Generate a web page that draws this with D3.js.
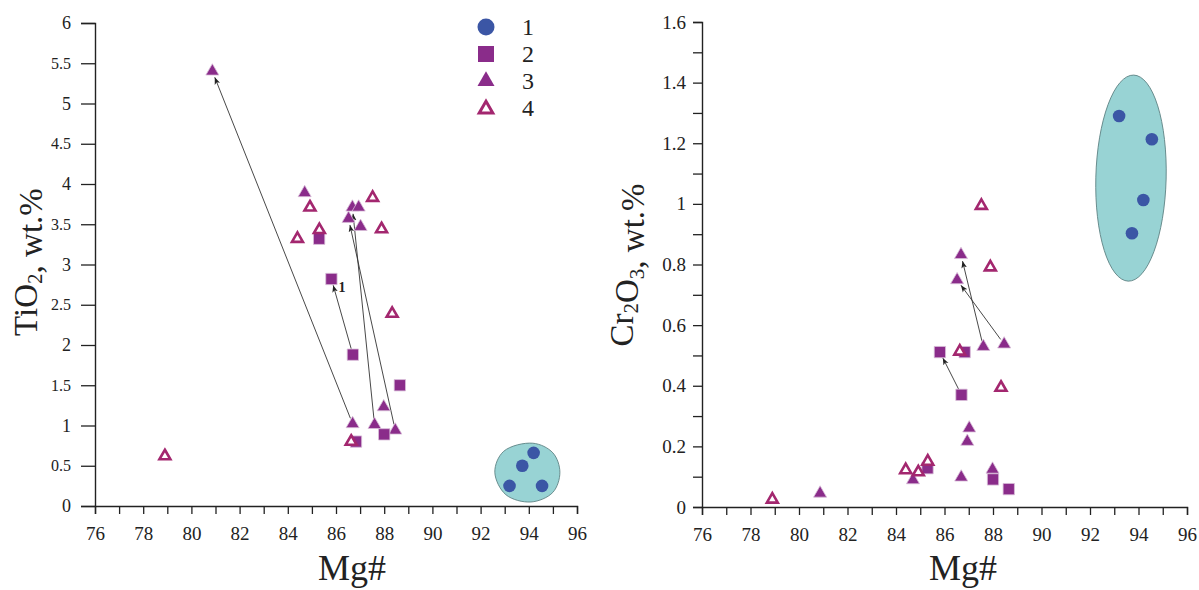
<!DOCTYPE html>
<html>
<head>
<meta charset="utf-8">
<script src="https://cdn.jsdelivr.net/npm/d3@7"></script>
<style>
  body { margin: 0; background: #fff; }
  svg text { font-family: "Liberation Serif", "Times New Roman", serif; fill: #222; }
</style>
</head>
<body>
<script>
// samples (Mg# shared by both panels)
const mgCircle = [93.2, 93.73, 94.2, 94.55];
const tiCircle = [0.25, 0.50, 0.66, 0.25];
const crCircle = [1.29, 0.903, 1.013, 1.213];

const mgSquare = [85.3, 85.81, 86.7, 86.83, 88.0, 88.65];
const tiSquare = [3.32, 2.82, 1.88, 0.80, 0.89, 1.50];
const crSquare = [0.128, 0.511, 0.370, 0.511, 0.091, 0.059];

const mgTriangle = [80.87, 84.7, 86.52, 86.68, 86.94, 87.02, 86.69, 87.6, 87.98, 88.46];
const tiTriangle = [5.40, 3.89, 3.57, 3.71, 3.71, 3.47, 1.02, 1.01, 1.23, 0.94];
const crTriangle = [0.045, 0.089, 0.749, 0.832, 0.216, 0.260, 0.098, 0.529, 0.124, 0.537];

const mgOpen = [78.9, 84.4, 84.92, 85.31, 86.63, 87.52, 87.89, 88.33];
const tiOpen = [0.62, 3.32, 3.71, 3.43, 0.80, 3.83, 3.44, 2.39];
const crOpen = [0.025, 0.122, 0.115, 0.150, 0.513, 0.994, 0.791, 0.394];

// arrows: [group, from index, to index]
const tiArrows = [["triangle", 6, 0], ["square", 2, 1], ["triangle", 9, 2], ["triangle", 7, 3]];
const crArrows = [["square", 2, 1], ["triangle", 9, 2], ["triangle", 7, 3]];

// outline of the group-1 field on the TiO2 plot
const tiFieldMg = [94.17, 95.0, 95.29, 95.0, 94.09, 93.05, 92.59, 92.96];
const tiFieldVal = [0.78, 0.66, 0.42, 0.17, 0.05, 0.14, 0.42, 0.68];
// group-1 field on the Cr2O3 plot: centre, half-widths, tilt
const crField = { mg: 93.69, val: 1.085, dMg: 1.45, dVal: 0.34, tilt: 1.5 };

const legendLabels = ["1", "2", "3", "4"];
const xTicks = d3.range(76, 97, 1);

const purple = "#8a2c8a", openCol = "#a3276f", blue = "#3b56a5";
const serif = "Liberation Serif, Times New Roman, serif";

const svg = d3.select("body").append("svg")
  .attr("width", 1199).attr("height", 590);

svg.append("defs").append("marker")
  .attr("id", "head")
  .attr("viewBox", "0 -4 8 8")
  .attr("refX", 8).attr("refY", 0)
  .attr("markerWidth", 7).attr("markerHeight", 7)
  .attr("markerUnits", "userSpaceOnUse")
  .attr("orient", "auto")
  .append("path").attr("d", "M0,-3.2L8,0L0,3.2L2,0Z").attr("fill", "#222");

function drawPanel(cfg) {
  const g = svg.append("g");
  const x = d3.scaleLinear().domain([76, 96]).range(cfg.xRange);
  const y = d3.scaleLinear().domain([0, cfg.yMax]).range(cfg.yRange);

  // axes
  const xAxis = g.append("g")
    .attr("transform", `translate(0,${cfg.yRange[0]})`)
    .call(d3.axisBottom(x).tickValues(xTicks).tickSize(8).tickPadding(13)
      .tickFormat(d => d % 2 === 0 ? d : ""));
  xAxis.attr("font-family", serif).attr("font-size", 19);

  const yAxis = g.append("g")
    .attr("transform", `translate(${cfg.xRange[0]},0)`)
    .call(d3.axisLeft(y).tickValues(cfg.yTicks).tickSize(cfg.yTickSize).tickPadding(cfg.yPad)
      .tickFormat(cfg.yFormat));
  yAxis.attr("font-family", serif).attr("font-size", cfg.yFontSize);

  g.selectAll(".domain").attr("stroke", "#222").attr("stroke-width", 1.4);
  g.selectAll(".tick line").attr("stroke", "#222").attr("stroke-width", 1.3);
  g.selectAll(".tick text").attr("fill", "#222")
    .attr("font-family", serif).style("font-family", serif);

  // group-1 field
  cfg.drawField(g, x, y);

  const groups = {
    square: { mg: mgSquare, v: cfg.square },
    triangle: { mg: mgTriangle, v: cfg.triangle }
  };

  // arrows
  cfg.arrows.forEach(([grp, a, b]) => {
    const s = groups[grp];
    const x1 = x(s.mg[a]), y1 = y(s.v[a]);
    const x2 = x(s.mg[b]), y2 = y(s.v[b]);
    const len = Math.hypot(x2 - x1, y2 - y1);
    const ux = (x2 - x1) / len, uy = (y2 - y1) / len;
    g.append("line")
      .attr("x1", x1 + ux * 6).attr("y1", y1 + uy * 6)
      .attr("x2", x2 - ux * 6.5).attr("y2", y2 - uy * 6.5)
      .attr("stroke", "#333").attr("stroke-width", 0.9)
      .attr("marker-end", "url(#head)");
  });

  // points
  g.selectAll(".c").data(d3.zip(mgCircle, cfg.circle)).join("circle")
    .attr("cx", d => x(d[0])).attr("cy", d => y(d[1])).attr("r", 6.3)
    .attr("fill", blue);

  g.selectAll(".t").data(d3.zip(mgTriangle, cfg.triangle)).join("path")
    .attr("d", d3.symbol(d3.symbolTriangle, 74))
    .attr("transform", d => `translate(${x(d[0])},${y(d[1])})`)
    .attr("fill", purple).attr("stroke", "#d9bfd9").attr("stroke-width", 0.8);

  g.selectAll(".s").data(d3.zip(mgSquare, cfg.square)).join("path")
    .attr("d", d3.symbol(d3.symbolSquare, 128))
    .attr("transform", d => `translate(${x(d[0])},${y(d[1])})`)
    .attr("fill", purple).attr("stroke", "#d9bfd9").attr("stroke-width", 0.8);

  g.selectAll(".o").data(d3.zip(mgOpen, cfg.open)).join("path")
    .attr("d", d3.symbol(d3.symbolTriangle, 52))
    .attr("transform", d => `translate(${x(d[0])},${y(d[1])})`)
    .attr("fill", "#fff").attr("stroke", openCol).attr("stroke-width", 2.6)
    .attr("stroke-linejoin", "miter");

  // axis titles
  g.append("text")
    .attr("x", cfg.mgX).attr("y", 580)
    .attr("text-anchor", "middle")
    .style("font-size", "36px")
    .text("Mg#");

  const t = g.append("text")
    .attr("transform", `translate(${cfg.titleX},${cfg.titleY}) rotate(-90)`)
    .attr("text-anchor", "middle")
    .style("font-size", "33px");
  cfg.title.forEach(([s, sub]) => {
    if (sub) {
      t.append("tspan").attr("dy", "0.25em").style("font-size", "21px").text(s);
      t.append("tspan").attr("dy", "-0.25em").text("");
    } else {
      t.append("tspan").text(s);
    }
  });
  return { g, x, y };
}

const left = drawPanel({
  xRange: [95, 577], yRange: [506, 23], yMax: 6,
  yTicks: d3.range(0, 6.01, 0.5), yTickSize: 14, yPad: 10,
  yFormat: d => d, yFontSize: 18,
  circle: tiCircle, square: tiSquare, triangle: tiTriangle, open: tiOpen,
  arrows: tiArrows,
  drawField: (g, x, y) => {
    g.append("path")
      .attr("d", d3.line().x(d => x(d[0])).y(d => y(d[1]))
        .curve(d3.curveCatmullRomClosed)(d3.zip(tiFieldMg, tiFieldVal)))
      .attr("fill", "#98d3d4").attr("stroke", "#5f8384").attr("stroke-width", 0.9);
  },
  mgX: 352, titleX: 37, titleY: 262,
  title: [["TiO"], ["2", true], [", wt.%"]]
});
left.g.selectAll(".tick text")
  .filter(d => d % 1 !== 0 && d < 76)
  .style("font-size", "16px");

// label "1" next to the marked sample
left.g.append("text")
  .attr("x", left.x(mgSquare[1]) + 7).attr("y", left.y(tiSquare[1]) + 13)
  .style("font-size", "14px").style("font-weight", "bold")
  .text("1");

const right = drawPanel({
  xRange: [702, 1187], yRange: [507, 22], yMax: 1.6,
  yTicks: d3.range(0, 16.5, 1).map(d => d / 10), yTickSize: 9, yPad: 7,
  yFormat: d => (Math.round(d * 10) % 2 === 0 ? d : ""), yFontSize: 19,
  circle: crCircle, square: crSquare, triangle: crTriangle, open: crOpen,
  arrows: crArrows,
  drawField: (g, x, y) => {
    const cx = x(crField.mg), cy = y(crField.val);
    g.append("ellipse")
      .attr("cx", cx).attr("cy", cy)
      .attr("rx", x(crField.mg + crField.dMg) - cx)
      .attr("ry", cy - y(crField.val + crField.dVal))
      .attr("transform", `rotate(${crField.tilt},${cx},${cy})`)
      .attr("fill", "#98d3d4").attr("stroke", "#5f8384").attr("stroke-width", 0.9);
  },
  mgX: 963, titleX: 633, titleY: 265,
  title: [["Cr"], ["2", true], ["O"], ["3", true], [", wt.%"]]
});

// legend
const legend = svg.append("g");
const ly = d3.scalePoint().domain(legendLabels).range([27, 108]);
const lx = 486;
legend.append("circle").attr("cx", lx).attr("cy", ly("1")).attr("r", 8.5).attr("fill", blue);
legend.append("path").attr("d", d3.symbol(d3.symbolSquare, 256))
  .attr("transform", `translate(${lx},${ly("2")})`).attr("fill", purple);
legend.append("path").attr("d", d3.symbol(d3.symbolTriangle, 125))
  .attr("transform", `translate(${lx},${ly("3")})`).attr("fill", purple);
legend.append("path").attr("d", d3.symbol(d3.symbolTriangle, 80))
  .attr("transform", `translate(${lx},${ly("4") + 1})`)
  .attr("fill", "#fff").attr("stroke", openCol).attr("stroke-width", 3);
legend.selectAll("text").data(legendLabels).join("text")
  .attr("x", 522).attr("y", d => ly(d)).attr("dy", "0.35em")
  .style("font-size", "24px")
  .text(d => d);
</script>
</body>
</html>
